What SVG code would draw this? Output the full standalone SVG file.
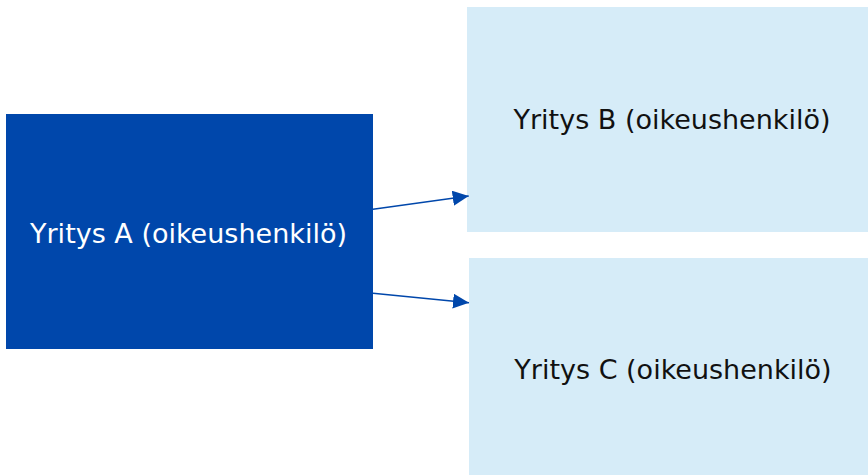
<svg xmlns="http://www.w3.org/2000/svg" width="868" height="475" viewBox="0 0 868 475">
<style>
.lbl{font-family:"DejaVu Sans","Verdana",sans-serif;font-size:27px;text-anchor:middle}
.light{fill:#D6ECF8}
.dark{fill:#0047AB}
.conn{stroke:#0047AB;stroke-width:1.4;fill:none}
</style>
<defs>
<marker id="ah" markerUnits="userSpaceOnUse" markerWidth="18" markerHeight="16" refX="16" refY="7.5" orient="auto">
<path d="M0,0 L16,7.5 L0,15 Z" fill="#0047AB"/>
</marker>
</defs>
<rect width="868" height="475" fill="#FFFFFF"/>
<g id="nodeA">
<rect class="dark" x="6" y="114" width="367" height="235"/>
<text class="lbl" x="188.5" y="243" fill="#FFFFFF">Yritys A (oikeushenkilö)</text>
</g>
<g id="nodeB">
<rect class="light" x="467" y="7" width="401" height="225"/>
<text class="lbl" x="672" y="129" fill="#111111">Yritys B (oikeushenkilö)</text>
</g>
<g id="nodeC">
<rect class="light" x="469" y="258" width="399" height="217"/>
<text class="lbl" x="673" y="378.5" fill="#111111">Yritys C (oikeushenkilö)</text>
</g>
<g id="connectors">
<line class="conn" x1="373" y1="209.3" x2="468.7" y2="196" marker-end="url(#ah)"/>
<line class="conn" x1="373" y1="293.3" x2="469" y2="302.7" marker-end="url(#ah)"/>
</g>
</svg>
